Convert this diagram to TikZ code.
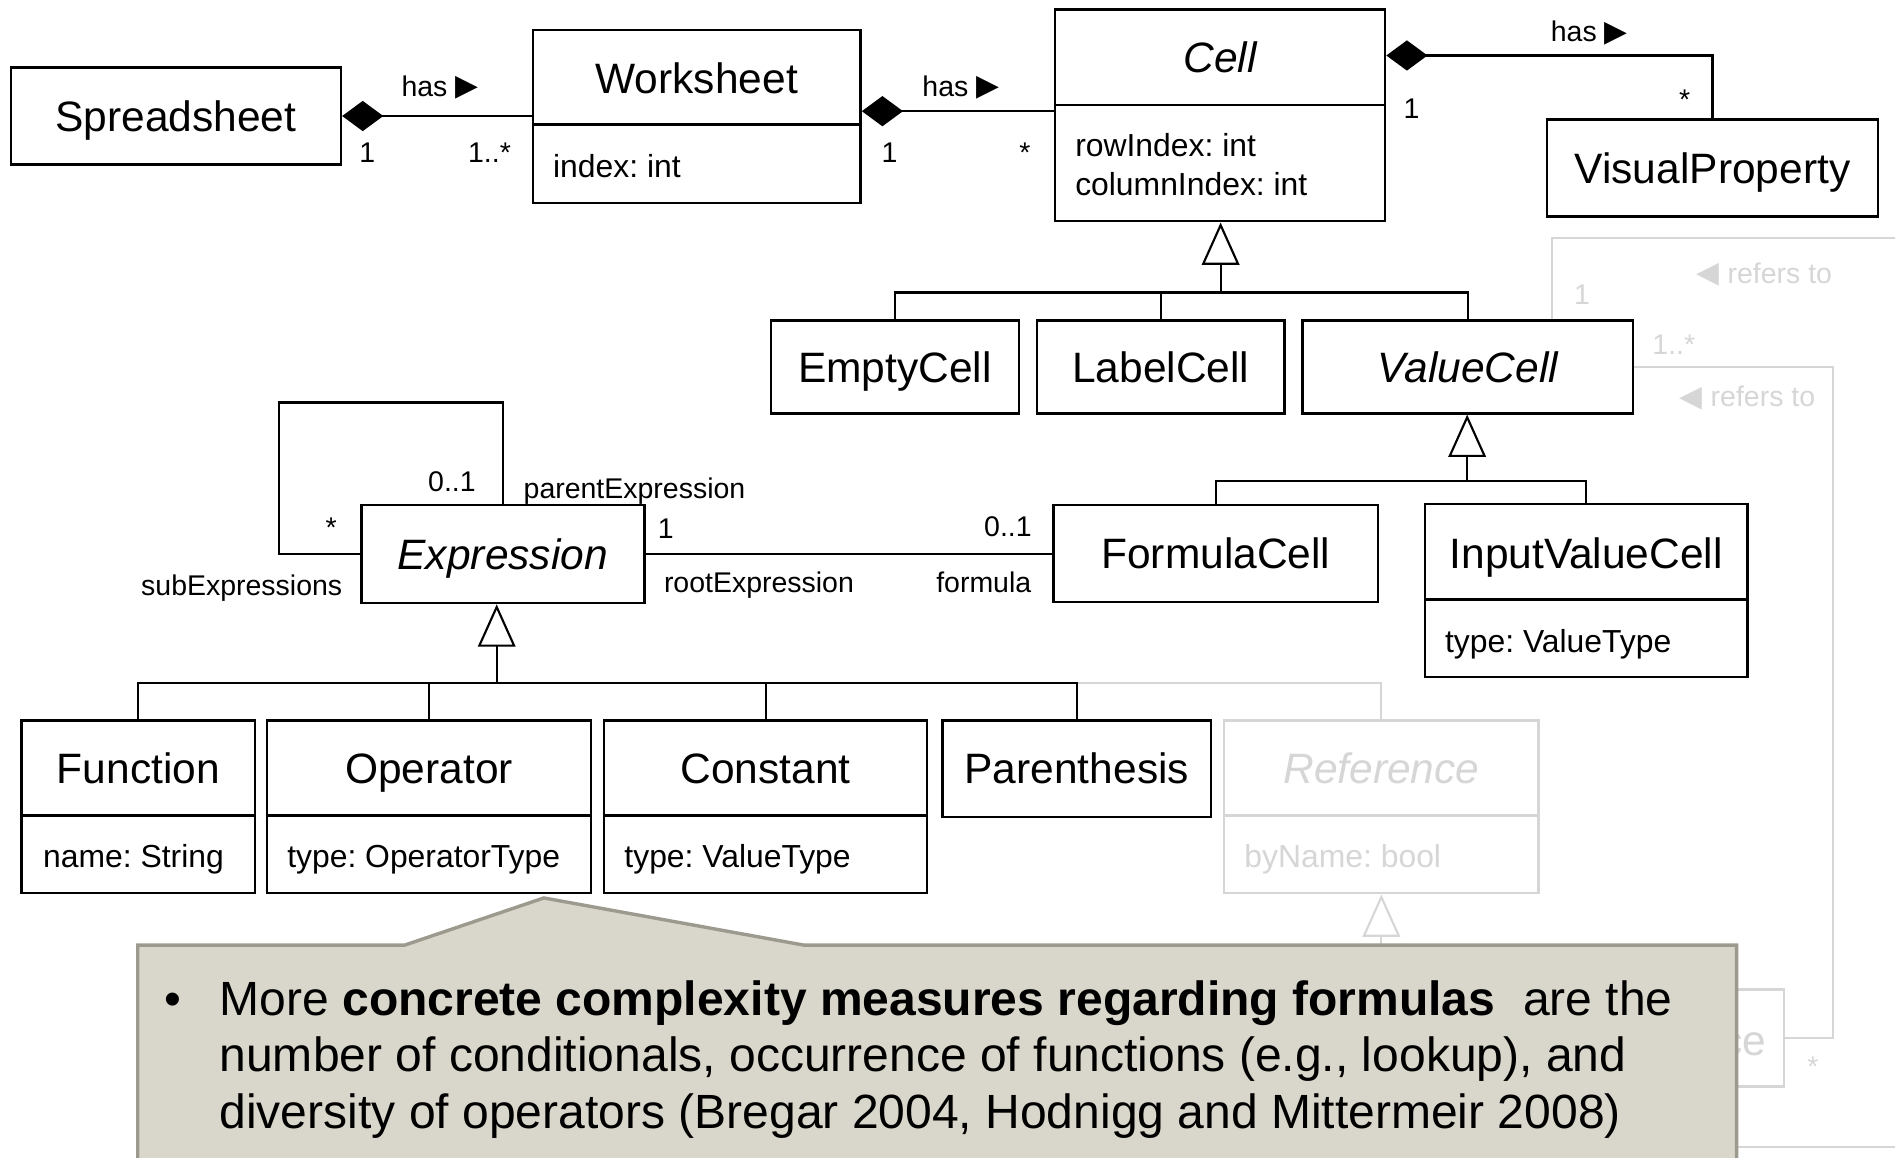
\documentclass[tikz,border=0pt]{standalone}
\usepackage{fontspec}
\setmainfont{Liberation Sans}
\newfontfamily\symfont{DejaVu Sans}
\usetikzlibrary{arrows.meta}
\frenchspacing
\definecolor{notefill}{RGB}{217,215,203}
\definecolor{noteedge}{RGB}{156,154,142}
\definecolor{faded}{RGB}{214,214,214}
\newcommand\rtri{{\symfont\fontsize{7}{8}\selectfont\raisebox{0.05ex}{▶}}}
\newcommand\ltri{{\symfont\fontsize{7}{8}\selectfont\raisebox{0.05ex}{◀}}}
\begin{document}
\begin{tikzpicture}[x=0.01cm, y=-0.01cm,
  box/.style={draw, line width=0.6pt, inner sep=0pt, fill=white},
  nm/.style={font=\fontsize{10}{12}\selectfont, inner sep=0pt, text height=0.72em, text depth=0pt, yshift=0.015cm},
  attr/.style={font=\fontsize{7.5}{9}\selectfont, inner sep=0pt, anchor=west, text height=0.72em, text depth=0pt, yshift=0.04cm},
  lbl/.style={font=\fontsize{6.7}{8}\selectfont, inner sep=0pt, text height=0.72em, text depth=0pt, yshift=0.04cm},
  conn/.style={line width=0.5pt},
  comp/.style={conn, {Diamond[length=0.34cm, width=0.25cm]}-},
  gen/.style={conn, -{Triangle[open, length=0.35cm, width=0.31cm]}},
  divider/.style={line width=0.6pt},
  notetext/.style={anchor=base west, inner sep=0pt, font=\fontsize{11.3}{13}\selectfont}
]
\useasboundingbox (0,0) rectangle (1568,958);

% ---------- top row ----------
\node[box, font=\fontsize{10}{12}\selectfont, text height=0.72em, text depth=0pt, minimum width=2.73cm, minimum height=0.80cm] (ss) at (145.5,96) {Spreadsheet};

\node[box, minimum width=2.71cm, minimum height=1.43cm] (ws) at (576.5,96.5) {};
\draw[divider] ([yshift=-0.79cm]ws.north west) -- ([yshift=-0.79cm]ws.north east);
\node[nm] (wsT) at (576.5,66) {Worksheet};
\node[attr] (wsA) at (457,138) {index: int};

\node[box, minimum width=2.73cm, minimum height=1.75cm] (cell) at (1009.5,95.5) {};
\draw[divider] ([yshift=-0.80cm]cell.north west) -- ([yshift=-0.80cm]cell.north east);
\node[nm, font=\fontsize{10}{12}\selectfont\itshape] (cellT) at (1009.5,49) {Cell};
\node[attr] (cellA1) at (889,121) {rowIndex: int};
\node[attr] (cellA2) at (889,153) {columnIndex: int};

\node[box, font=\fontsize{10}{12}\selectfont, text height=0.72em, text depth=0pt, minimum width=2.74cm, minimum height=0.80cm] (vp) at (1417,139) {VisualProperty};

% ---------- cell subclasses ----------
\node[box, font=\fontsize{10}{12}\selectfont, text height=0.72em, text depth=0pt, minimum width=2.05cm, minimum height=0.77cm] (ec) at (740.5,303.5) {EmptyCell};
\node[box, font=\fontsize{10}{12}\selectfont, text height=0.72em, text depth=0pt, minimum width=2.05cm, minimum height=0.77cm] (lc) at (960.5,303.5) {LabelCell};
\node[box, font=\fontsize{10}{12}\selectfont\itshape, text height=0.72em, text depth=0pt, minimum width=2.73cm, minimum height=0.77cm] (vc) at (1214.5,303.5) {ValueCell};

\node[box, font=\fontsize{10}{12}\selectfont, text height=0.72em, text depth=0pt, minimum width=2.68cm, minimum height=0.80cm] (fc) at (1006,458) {FormulaCell};

\node[box, minimum width=2.67cm, minimum height=1.43cm] (ivc) at (1312.5,488.5) {};
\draw[divider] ([yshift=-0.80cm]ivc.north west) -- ([yshift=-0.80cm]ivc.north east);
\node[nm] (ivcT) at (1312.5,459) {InputValueCell};
\node[attr] (ivcA) at (1195,531) {type: ValueType};

% ---------- expressions ----------
\node[box, font=\fontsize{10}{12}\selectfont\itshape, text height=0.72em, text depth=0pt, minimum width=2.34cm, minimum height=0.81cm] (ex) at (416,458.5) {Expression};

\node[box, minimum width=1.93cm, minimum height=1.43cm] (fn) at (114.5,667.5) {};
\draw[divider] ([yshift=-0.80cm]fn.north west) -- ([yshift=-0.80cm]fn.north east);
\node[nm] (fnT) at (114.5,637) {Function};
\node[attr] (fnA) at (35,709) {name: String};

\node[box, minimum width=2.68cm, minimum height=1.43cm] (op) at (355,667.5) {};
\draw[divider] ([yshift=-0.80cm]op.north west) -- ([yshift=-0.80cm]op.north east);
\node[nm] (opT) at (355,637) {Operator};
\node[attr] (opA) at (237,709) {type: OperatorType};

\node[box, minimum width=2.67cm, minimum height=1.43cm] (cst) at (633.5,667.5) {};
\draw[divider] ([yshift=-0.80cm]cst.north west) -- ([yshift=-0.80cm]cst.north east);
\node[nm] (cstT) at (633.5,637) {Constant};
\node[attr] (cstA) at (516,709) {type: ValueType};

\node[box, font=\fontsize{10}{12}\selectfont, text height=0.72em, text depth=0pt, minimum width=2.22cm, minimum height=0.80cm] (par) at (891,636) {Parenthesis};

% faded reference class
\node[box, draw=faded, minimum width=2.60cm, minimum height=1.43cm] (refb) at (1143,667.5) {};
\draw[divider, draw=faded] ([yshift=-0.80cm]refb.north west) -- ([yshift=-0.80cm]refb.north east);
\node[nm, text=faded, font=\fontsize{10}{12}\selectfont\itshape] (refT) at (1143,637) {Reference};
\node[attr, text=faded] (refA) at (1029,709) {byName: bool};

% faded class partly under the note
\node[box, draw=faded, minimum width=1.20cm, minimum height=0.80cm] (pb) at (1416,859) {};
\node[nm, text=faded, anchor=east] (pbT) at (1462,862) {ce};

% ---------- faded associations on the right ----------
\coordinate (gA) at (1284,197);
\coordinate (gAend) at (1568,197);
\draw[conn, draw=faded] (vc.north -| gA) -- (gA) -- (gAend);
\coordinate (gB) at (1517,600);
\draw[conn, draw=faded] (vc.east) -| (gB) |- (pb.east);
\coordinate (gC1) at (1300,949);
\coordinate (gC2) at (1568,949);
\draw[conn, draw=faded] (gC1) -- (gC2);
\node[lbl, text=faded] (gL1) at (1309,243) {1};
\node[lbl, text=faded] (gL2) at (1460,226) {\ltri\ refers to};
\node[lbl, text=faded] (gL3) at (1385,285) {1..*};
\node[lbl, text=faded] (gL4) at (1446,328) {\ltri\ refers to};
\node[lbl, text=faded] (gL5) at (1500,882) {*};

% ---------- compositions ----------
\draw[comp] (ss.east) -- (ss.east -| ws.west);
\node[lbl] (hasA) at (364,71) {has \rtri};
\node[lbl] (mA1) at (304,126) {1};
\node[lbl] (mA2) at (405,126) {1..*};

\coordinate (wsc) at ([yshift=0.045cm]ws.east);
\draw[comp] (wsc) -- (wsc -| cell.west);
\node[lbl] (hasB) at (795,71) {has \rtri};
\node[lbl] (mB1) at (736,126) {1};
\node[lbl] (mB2) at (848,126) {*};

\coordinate (cvp) at ([yshift=-0.39cm]cell.north east);
\draw[comp] (cvp) -| (vp.north);
\node[lbl] (hasC) at (1315,26) {has \rtri};
\node[lbl] (mC1) at (1168,89) {1};
\node[lbl] (mC2) at (1394,82) {*};

% ---------- generalizations ----------
\coordinate (cb) at (1010,242);
\draw[conn] (ec.north) |- (cb) -| (vc.north);
\draw[conn] (lc.north) -- (lc.north |- cb);
\draw[gen] (cb) -- (cb |- cell.south);

\coordinate (vb) at (1214,398);
\draw[conn] (fc.north) |- (vb) -| (ivc.north);
\draw[gen] (vb) -- (vb |- vc.south);

\coordinate (eb) at (411,565);
\draw[conn, draw=faded] (par.north |- eb) -| (refb.north);
\draw[conn] (fn.north) |- (eb) -| (par.north);
\draw[conn] (op.north) -- (op.north |- eb);
\draw[conn] (cst.north) -- (cst.north |- eb);
\draw[gen] (eb) -- (eb |- ex.south);

\coordinate (rb) at (1143,800);
\draw[gen, draw=faded] (rb) -- (refb.south);

% ---------- expression associations ----------
\coordinate (exloop) at (231,333);
\draw[conn] (ex.west) -| (exloop) -| (ex.north);
\node[lbl] (sA1) at (374,398) {0..1};
\node[lbl] (sA2) at (525,404) {parentExpression};
\node[lbl] (sA3) at (274,436) {*};
\node[lbl] (sA4) at (200,484) {subExpressions};

\draw[conn] (ex.east) -- (ex.east -| fc.west);
\node[lbl] (rA1) at (551,437) {1};
\node[lbl] (rA2) at (628,482) {rootExpression};
\node[lbl] (rA3) at (834,435) {0..1};
\node[lbl] (rA4) at (814,482) {formula};

% ---------- callout note ----------
\draw[fill=notefill, draw=noteedge, line width=0.8pt]
  (114,975) -- (114,782) -- (335,782) -- (450,743) -- (665,782) -- (1437,782) -- (1437,975);
\node[notetext] (nB) at (135,840) {•};
\node[notetext] (n1) at (181,840)
  {More \textbf{concrete complexity measures regarding formulas}\hspace{0.3em} are the};
\node[notetext] (n2) at (181,887)
  {number of conditionals, occurrence of functions (e.g., lookup), and};
\node[notetext] (n3) at (181,934)
  {diversity of operators (Bregar 2004, Hodnigg and Mittermeir 2008)};
\end{tikzpicture}
\end{document}
